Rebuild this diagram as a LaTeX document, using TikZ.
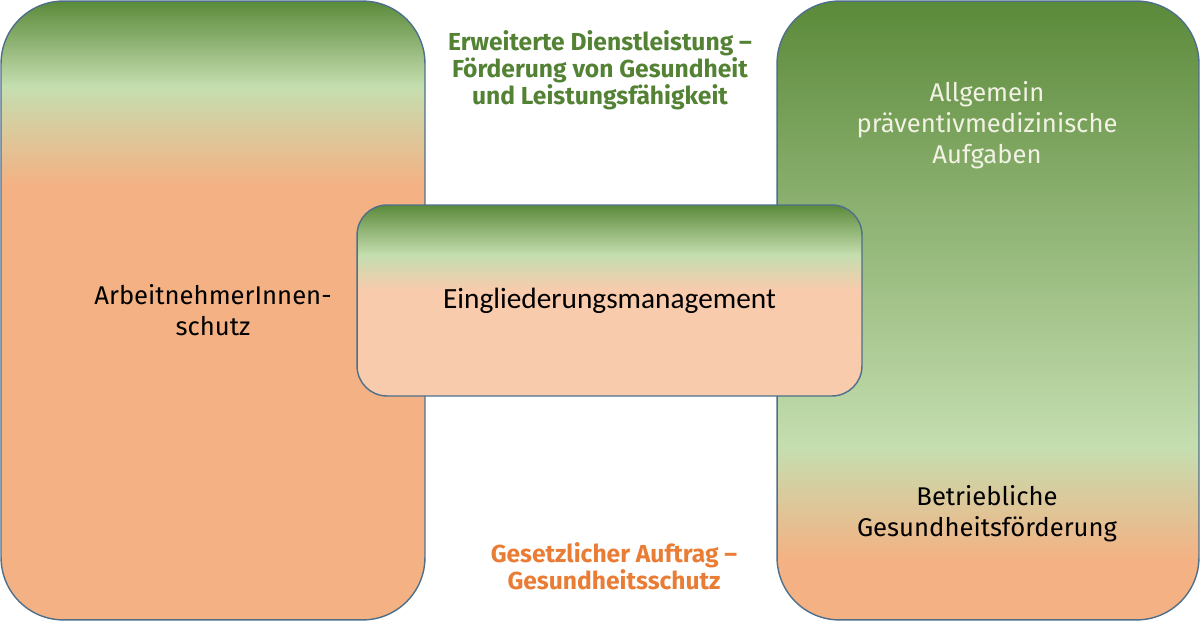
\documentclass[tikz,border=0pt]{standalone}
\usepackage{fontspec}
\setmainfont{Carlito}
\newfontfamily\sidefont{Fira Sans}
\usepackage{tikz}

\definecolor{dkgreen}{HTML}{5B8A3A}
\definecolor{ltgreen}{HTML}{C5DEB0}
\definecolor{orange}{HTML}{F4B183}
\definecolor{peach}{HTML}{F8CBAD}
\definecolor{frame}{HTML}{4E6F8C}
\definecolor{titlegreen}{HTML}{548235}
\definecolor{titleorange}{HTML}{E97D36}
\definecolor{cream}{HTML}{F2F2E4}

% box fillings, path runs from 25bp (bottom) to 75bp (top)
\pgfdeclareverticalshading{leftshade}{100bp}{color(0bp)=(orange); color(60.1bp)=(orange);
  color(68.1bp)=(ltgreen); color(75bp)=(dkgreen); color(100bp)=(dkgreen)}
\pgfdeclareverticalshading{rightshade}{100bp}{color(0bp)=(orange); color(29.8bp)=(orange);
  color(39bp)=(ltgreen); color(75bp)=(dkgreen); color(100bp)=(dkgreen)}
\pgfdeclareverticalshading{midshade}{100bp}{color(0bp)=(peach); color(52.7bp)=(peach);
  color(61.9bp)=(ltgreen); color(75bp)=(dkgreen); color(100bp)=(dkgreen)}

\begin{document}
\begin{tikzpicture}[x=0.02cm,y=-0.02cm,
    box/.style={draw=frame,line width=0.8pt,rounded corners=1.25cm,inner sep=0pt,shade},
    sidetext/.style={align=center,font=\sidefont\fontsize{14.6}{17.6}\selectfont},
    titletext/.style={align=center,font=\sidefont\bfseries\fontsize{14}{15.3}\selectfont}]

	\useasboundingbox (0,0) rectangle (1200,621);

	\node[box,shading=leftshade,minimum width=8.48cm,minimum height=12.38cm,sidetext] (schutz) at (213,310.5) {ArbeitnehmerInnen-\\schutz};
	\node[box,shading=rightshade,minimum width=8.44cm,minimum height=12.38cm] (rechts) at (988,310.5) {};

	\node[sidetext,text=cream] (praev) at (987,125) {Allgemein\\präventivmedizinische\\Aufgaben};
	\node[sidetext] (bgf) at (987,514) {Betriebliche\\Gesundheitsförderung};

	\node[box,shading=midshade,rounded corners=0.6cm,minimum width=10.1cm,minimum height=3.82cm,font=\fontsize{16.7}{19}\selectfont] (bem) at (609.5,300.5) {Eingliederungsmanagement};

	\node[titletext,text=titlegreen] (erweitert) at (600,70) {Erweiterte Dienstleistung –\\Förderung von Gesundheit\\und Leistungsfähigkeit};
	\node[titletext,text=titleorange] (gesetz) at (614,566) {Gesetzlicher Auftrag –\\Gesundheitsschutz};

\end{tikzpicture}
\end{document}
